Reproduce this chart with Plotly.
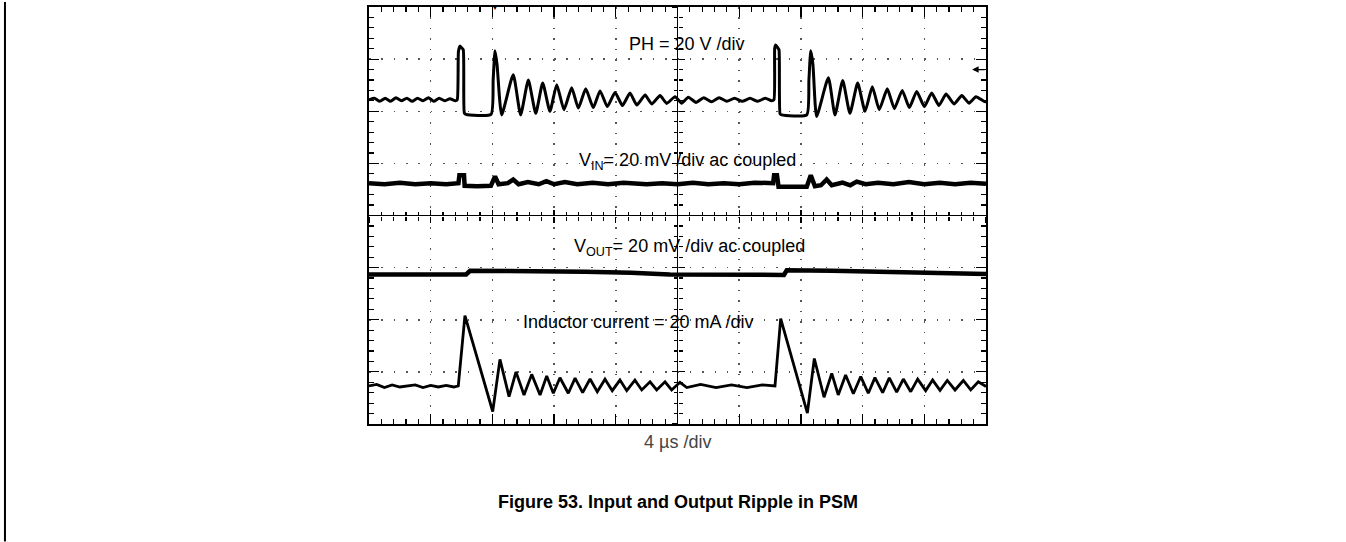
import plotly.graph_objects as go

# time in µs relative to screen centre, amplitude in divisions (8 div tall screen)
ph_t = [-20, -19.65, -19.3, -18.95, -18.6, -18.25, -17.9, -17.55, -17.2, -16.85, -16.5, -16.15, -15.8, -15.45,
        -15.1, -14.75, -14.4, -14.28, -14.2, -14.1, -14.0, -13.89, -13.82, -13.71, -12.09, -11.95, -11.83, -11.7,
        -11.4, -10.65, -10.17, -9.67, -9.19, -8.74, -8.27, -7.83, -7.36, -6.86, -6.43, -5.95, -5.46, -5.02, -4.55,
        -4.05, -3.57, -3.08, -2.64, -2.1, -1.67, -1.13, -0.7, -0.16, 0.27, 0.7, 1.2, 1.7, 2.2, 2.7, 3.2, 3.7, 4.2,
        4.7, 5.2, 5.7, 6.1, 6.25, 6.3, 6.36, 6.5, 6.58, 6.65, 6.75, 8.38, 8.52, 8.64, 8.78, 9.02, 9.78, 10.21,
        10.71, 11.18, 11.68, 12.16, 12.63, 13.08, 13.6, 14.06, 14.57, 15.03, 15.51, 16.0, 16.48, 16.95, 17.41,
        17.93, 18.43, 18.9, 19.35, 19.94, 20]
ph_v = [2.22, 2.25, 2.19, 2.25, 2.19, 2.26, 2.2, 2.25, 2.19, 2.25, 2.2, 2.26, 2.19, 2.25,
        2.2, 2.24, 2.2, 2.22, 3.15, 3.25, 3.22, 3.18, 1.97, 1.94, 1.94, 2.6, 3.16, 2.9,
        1.93, 2.70, 1.93, 2.60, 1.96, 2.54, 2.00, 2.51, 2.03, 2.45, 2.06, 2.43, 2.07, 2.39, 2.09,
        2.36, 2.11, 2.35, 2.12, 2.31, 2.14, 2.30, 2.15, 2.28, 2.155, 2.27, 2.17, 2.26, 2.18, 2.26, 2.19, 2.25, 2.19,
        2.25, 2.19, 2.25, 2.2, 2.22, 3.2, 3.27, 3.22, 3.18, 1.95, 1.93, 1.93, 2.6, 3.16, 2.9, 1.90, 2.645, 1.93,
        2.59, 1.96, 2.54, 2.00, 2.47, 2.03, 2.43, 2.05, 2.40, 2.07, 2.38, 2.09, 2.35, 2.11, 2.33,
        2.14, 2.30, 2.155, 2.28, 2.18, 2.2]

vin_t = [-20, -19, -18, -17, -16, -15, -14.2, -14.14, -13.84, -13.8, -13, -12.1, -11.83, -11.6, -11.0, -10.65,
         -10.3, -9.7, -9.0, -8.5, -8.0, -7.3, -6.5, -5.5, -4.5, -3.5, -2, -1, 0, 1, 2, 3, 4, 5, 6.2, 6.26, 6.45,
         6.55, 8.38, 8.64, 8.91, 9.3, 9.67, 10.0, 10.7, 11.2, 11.62, 12.2, 13, 14, 15, 16, 17, 18, 19, 20]
vin_v = [0.62, 0.6, 0.63, 0.6, 0.62, 0.6, 0.62, 0.77, 0.77, 0.57, 0.56, 0.57, 0.75, 0.6, 0.62, 0.69,
         0.6, 0.64, 0.6, 0.66, 0.6, 0.64, 0.6, 0.63, 0.6, 0.63, 0.6, 0.62, 0.6, 0.63, 0.6, 0.62, 0.6, 0.63, 0.62, 0.77, 0.77,
         0.55, 0.55, 0.77, 0.56, 0.58, 0.69, 0.58, 0.63, 0.58, 0.65, 0.6, 0.63, 0.6, 0.64, 0.6, 0.63, 0.6, 0.63, 0.61]

vout_t = [-20, -17, -13.7, -13.45, -10, -6, -3, -0.5, 6.9, 7.08, 10, 14, 17, 20]
vout_v = [-1.13, -1.14, -1.13, -1.06, -1.06, -1.08, -1.10, -1.13, -1.14, -1.05, -1.06, -1.08, -1.10, -1.12]

il_t = [-20, -19.5, -19, -18.5, -18, -17, -16.5, -16, -15.5, -15, -14.5, -14.21, -13.78, -11.98, -11.51, -10.92,
        -10.47, -9.95, -9.45, -8.91, -8.48, -8.05, -7.62, -7.08, -6.64, -6.15, -5.67, -5.2, -4.7, -4.23, -3.73,
        -3.29, -2.76, -2.32, -1.78, -1.35, -0.81, -0.38, 0.16, 0.6, 1.5, 2.5, 3.5, 4.5, 5.5, 6.32, 6.69, 8.42,
        8.87, 9.5, 10.0, 10.42, 10.9, 11.4, 11.88, 12.37, 12.8, 13.3, 13.73, 14.21, 14.64, 15.12, 15.57, 16.09,
        16.54, 17.02, 17.49, 17.99, 18.53, 19.01, 19.5, 20]
il_v = [-3.27, -3.24, -3.3, -3.25, -3.29, -3.25, -3.3, -3.26, -3.29, -3.26, -3.29, -3.27, -1.92, -3.76, -2.76, -3.475,
        -3.0, -3.443, -3.048, -3.443, -3.08, -3.41, -3.113, -3.41, -3.12, -3.398, -3.137, -3.38, -3.14, -3.36, -3.157,
        -3.36, -3.16, -3.347, -3.19, -3.347, -3.19, -3.347, -3.2, -3.3, -3.24, -3.3, -3.25, -3.3, -3.25, -3.27, -1.98, -3.79,
        -2.743, -3.487, -3.029, -3.443, -3.061, -3.42, -3.09, -3.41, -3.11, -3.40, -3.115, -3.39, -3.137, -3.38, -3.14, -3.36,
        -3.157, -3.355, -3.165, -3.347, -3.165, -3.347, -3.19, -3.28]

FONT = "Liberation Sans, Arial, sans-serif"

fig = go.Figure()
traces = [
    (ph_t, ph_v, dict(color="black", width=3, shape="spline", smoothing=0.5)),
    (vin_t, vin_v, dict(color="black", width=4.5)),
    (vout_t, vout_v, dict(color="black", width=4.5)),
    (il_t, il_v, dict(color="black", width=2.8)),
]
for t, v, ln in traces:
    fig.add_trace(go.Scatter(x=t, y=v, mode="lines", line=ln, showlegend=False, hoverinfo="skip"))

# empty traces so the centre tick axes get drawn
for xa, ya in [("x2", "y"), ("x3", "y"), ("x", "y2"), ("x", "y3")]:
    fig.add_trace(go.Scatter(x=[], y=[], xaxis=xa, yaxis=ya, showlegend=False, hoverinfo="skip"))

frame = dict(showline=True, linecolor="black", linewidth=2, mirror="ticks",
             ticks="inside", ticklen=10, tickwidth=1.2, tickcolor="black",
             showticklabels=False, showgrid=True, gridcolor="#555", gridwidth=1.5,
             zeroline=True, zerolinecolor="black", zerolinewidth=1.5)
centre = dict(anchor="free", position=0.5, showline=False, showgrid=False, zeroline=False,
              showticklabels=False, ticklen=6, tickwidth=1.2, tickcolor="black")

fig.update_layout(
    width=1346, height=542,
    margin=dict(l=369, r=360, t=5, b=118),
    paper_bgcolor="white", plot_bgcolor="white",
    font=dict(family=FONT, color="black"),
    xaxis=dict(frame, range=[-20, 20], dtick=4, tick0=0, griddash="1.5px,8.98px",
               minor=dict(dtick=0.8, ticks="inside", ticklen=5, tickcolor="black", tickwidth=1.2, showgrid=False)),
    yaxis=dict(frame, range=[-4, 4], dtick=1, tick0=0, griddash="1.5px,10.84px",
               minor=dict(dtick=0.2, ticks="inside", ticklen=5, tickcolor="black", tickwidth=1.2, showgrid=False)),
    xaxis2=dict(centre, overlaying="x", range=[-20, 20], dtick=4, tick0=0, ticks="outside",
                minor=dict(dtick=0.8, ticks="outside", ticklen=4, tickcolor="black", tickwidth=1.2)),
    xaxis3=dict(centre, overlaying="x", range=[-20, 20], dtick=4, tick0=0, ticks="inside",
                minor=dict(dtick=0.8, ticks="inside", ticklen=4, tickcolor="black", tickwidth=1.2)),
    yaxis2=dict(centre, overlaying="y", range=[-4, 4], dtick=1, tick0=0, ticks="outside",
                minor=dict(dtick=0.2, ticks="outside", ticklen=4, tickcolor="black", tickwidth=1.2)),
    yaxis3=dict(centre, overlaying="y", range=[-4, 4], dtick=1, tick0=0, ticks="inside",
                minor=dict(dtick=0.2, ticks="inside", ticklen=4, tickcolor="black", tickwidth=1.2)),
)

labels = [
    ("PH = 20 V /div", 0.62, 3.29),
    ("V<sub>IN</sub>= 20 mV /div ac coupled", 0.65, 1.03),
    ("V<sub>OUT</sub>= 20 mV /div ac coupled", 0.77, -0.62),
    ("Inductor current = 20 mA /div", -2.54, -2.04),
]
for text, x, y in labels:
    fig.add_annotation(text=text, x=x, y=y, xref="x", yref="y", showarrow=False,
                       xanchor="center", yanchor="middle", font=dict(size=18, color="black"))

# channel ground marker (arrow from the right edge) and trigger marker
fig.add_annotation(text="", x=19.1, y=2.8, xref="x", yref="y", showarrow=True,
                   ax=14, ay=0, arrowhead=2, arrowsize=1, arrowwidth=1.3, arrowcolor="black")
fig.add_annotation(text="▼", x=-11.83, y=1.0, xref="x", yref="paper", yanchor="middle", showarrow=False,
                   font=dict(size=8, color="black"))
fig.add_annotation(text="4 µs /div", x=0.5, y=-0.042, xref="paper", yref="paper", showarrow=False,
                   xanchor="center", yanchor="middle", font=dict(size=18, color="#444"))
fig.add_annotation(text="<b>Figure 53. Input and Output Ripple in PSM</b>", x=0.5, y=-0.186,
                   xref="paper", yref="paper", showarrow=False, xanchor="center", yanchor="middle",
                   font=dict(size=18, color="black"))

# page rule at the left edge
fig.add_shape(type="line", xref="paper", yref="paper", x0=-0.59, x1=-0.59, y0=-0.282, y1=1.012,
              line=dict(color="black", width=2))

fig.write_html("out.html", config={"displayModeBar": False, "staticPlot": True},
               post_script="document.body.style.margin='0px';")
